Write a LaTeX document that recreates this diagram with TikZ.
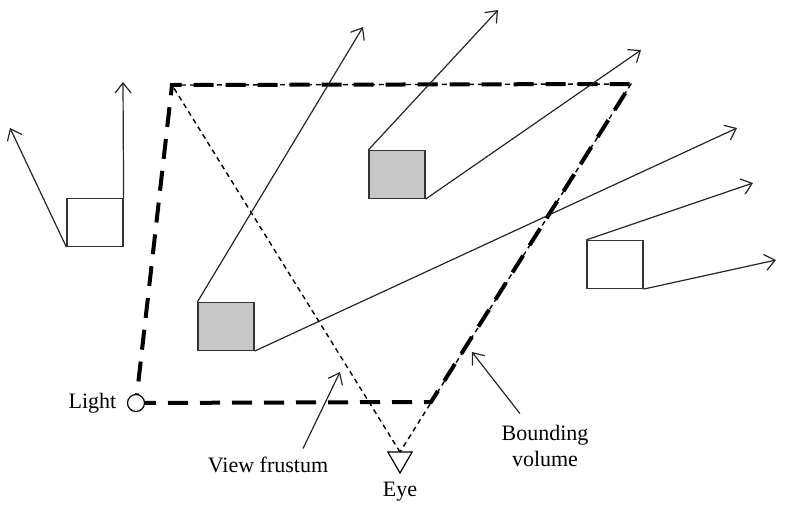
\documentclass[tikz,border=0pt]{standalone}
\usepackage{fontspec}
\setmainfont{Liberation Serif}
\usetikzlibrary{arrows.meta,positioning,shapes.geometric}
\tikzset{
  scene/.style={x=0.5pt, y=-0.5pt, >={Straight Barb[length=5pt,width=8pt]}, line width=0.6pt},
  obj/.style={draw=black!80, rectangle, minimum width=28pt, minimum height=24pt, inner sep=0pt},
  grayobj/.style={fill=black!22},
  ray/.style={->, black!85},
  bvol/.style={line width=2pt, dash pattern=on 10pt off 6pt},
  frust/.style={line width=0.7pt, dash pattern=on 2.5pt off 2pt},
  lamp/.style={draw, circle, fill=white, minimum size=8.5pt, inner sep=0pt},
  eyemark/.style={draw, regular polygon, regular polygon sides=3, shape border rotate=180, minimum size=14pt, inner sep=0pt, outer sep=0pt},
  tag/.style={font=\fontsize{11}{13}\selectfont, inner sep=1pt}
}

\begin{document}
\begin{tikzpicture}[scene]
\useasboundingbox (0,0) rectangle (809,504);
\coordinate (bv1) at (172,85); \coordinate (bv2) at (631,84); \coordinate (bv3) at (431,402);
\coordinate (vp) at (400,452);
\foreach \n/\x/\y in {a1/10/128, a2/123/82, b1/498/10, b2/641/50, c1/363/27, c2/737/128, d1/753/183, d2/776/260}
  \coordinate (\n) at (\x,\y);
\node[obj] (boxA) at (95,222.5) {};
\node[obj, grayobj] (boxB) at (397,174.5) {};
\node[obj, grayobj] (boxC) at (226,326.5) {};
\node[obj] (boxD) at (615,264.5) {};
\draw[frust] (vp) -- (bv1) -- (bv2) -- cycle;
\draw[bvol] (136,403) -- (bv3) -- (bv2) -- (bv1) -- (136,403);
\node[lamp] (light) at (136,403) {};
\node[tag, left=4pt of light] (lightlbl) {Light};
\node[eyemark, anchor=north] (eye) at (vp) {};
\node[tag, below=3pt of eye] (eyelbl) {Eye};
\draw[ray] (boxA.south west) -- (a1); \draw[ray] (boxA.north east) -- (a2);
\draw[ray] (boxB.north west) -- (b1); \draw[ray] (boxB.south east) -- (b2);
\draw[ray] (boxC.north west) -- (c1); \draw[ray] (boxC.south east) -- (c2);
\draw[ray] (boxD.north west) -- (d1); \draw[ray] (boxD.south east) -- (d2);
\node[tag] (vflbl) at (268,465) {View frustum};
\node[tag, align=center] (bvlbl) at (545,446) {Bounding\\volume};
\coordinate (vfpt) at (340,372); \coordinate (bvpt) at (472,352);
\draw[ray] ([xshift=17.5pt,yshift=3pt]vflbl.north) -- (vfpt);
\draw[ray] ([xshift=-12.5pt,yshift=4.5pt]bvlbl.north) -- (bvpt);
\end{tikzpicture}
\end{document}
